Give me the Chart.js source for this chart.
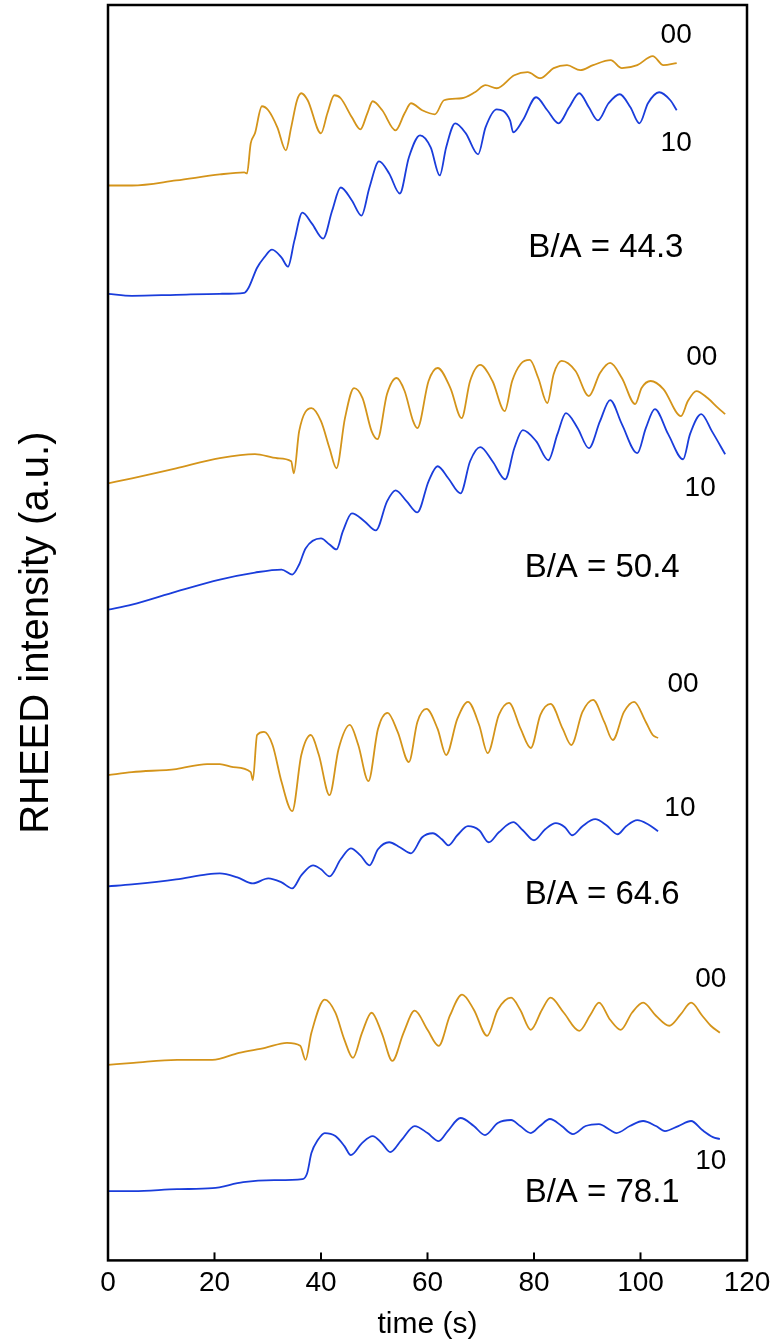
<!DOCTYPE html>
<html>
<head>
<meta charset="utf-8">
<title>RHEED intensity oscillations</title>
<script src="https://cdn.jsdelivr.net/npm/chart.js@4/dist/chart.umd.min.js"></script>
<style>
  html, body { margin: 0; padding: 0; background: #fff; }
  #wrap { width: 778px; height: 1343px; }
</style>
</head>
<body>
<div id="wrap"><canvas id="rheed"></canvas></div>
<script>
// time (s) and intensity (a.u., traces offset vertically)
// B/A = 44.3
const t00_443 = [0,4.5,12.8,21,25.6,26.1,26.8,27.6,28.9,30.1,31.8,33.4,34.4,35.5,36.3,37.5,40,41.2,42.5,43.7,45.8,47.4,48.7,49.7,51.5,54,55.7,56.9,59,61.4,63.1,66.4,68.9,70.9,73,76.3,78.8,81.2,83.7,86.2,88.7,91.1,94.4,96.5,99.4,102.3,104.3,106.8];
const i00_443 = [107.2,107.2,107.7,108.3,108.5,108.4,111.4,112.4,115.1,114.7,113.0,110.7,113.0,115.7,116.4,115.7,112.4,114.4,116.2,115.9,114.0,112.8,114.4,115.6,114.7,112.7,114.4,115.4,114.7,114.3,115.7,115.9,116.5,117.2,116.9,118.2,118.5,117.9,118.9,119.2,118.7,119.2,119.7,118.9,119.2,120.1,119.2,119.4];
const t10_443 = [0,4.5,12.8,21,25.6,26.4,28,29.3,30.8,32.6,33.8,35,36.5,38.3,40.4,42.1,43.7,45.8,47.6,49.1,50.9,52.8,54.8,56.5,58.6,60.6,62.3,63.5,65.2,67.2,69.5,70.9,73,75.5,76.1,77.9,80.4,82.5,84.6,86.6,88.5,90.3,92,94,96.1,98.1,99.8,101.4,103.5,105.6,106.8];
const i10_443 = [96.4,96.2,96.3,96.4,96.5,97.0,99.0,100.0,100.8,100.0,99.1,101.7,104.5,103.4,101.9,104.7,107.0,105.7,104.2,107.0,109.6,108.4,106.4,110.0,112.2,111.0,108.2,111.0,113.4,112.4,110.3,113.0,114.8,113.7,112.5,113.7,116.0,114.7,113.4,115.0,116.4,115.0,113.7,115.4,116.3,115.0,113.4,115.4,116.5,115.7,114.7];

// B/A = 50.4
const t00_504 = [0,4.5,12.8,21,27.6,31.8,34.4,34.9,35.9,38.2,40,41.6,42.9,44.5,46.2,47.8,49.5,50.6,52.4,54.2,55.7,57.3,58.1,60.2,61.9,64.3,66.4,68,69.9,72.2,74.5,75.9,77.5,79.2,80.8,82.5,83.7,85.2,87.8,90.3,92.4,94.3,96.5,99,100.2,101.9,104.3,107.6,108.9,110.5,112.6,114.6,115.9];
const i00_504 = [77.5,78.0,79.0,80.0,80.4,80.0,79.7,78.5,82.7,85.0,83.7,81.0,79.0,84.0,87.0,86.0,82.7,81.9,86.4,88.0,86.7,83.7,83.0,87.7,89.0,87.0,84.0,87.7,89.3,87.7,84.7,87.7,89.4,89.8,88.0,85.5,88.4,89.7,88.7,86.2,88.5,89.5,88.0,85.4,87.0,87.7,86.9,84.2,85.7,86.7,86.0,85.0,84.4];
const t10_504 = [0,4.5,12.8,21,27.6,32.6,34.6,35.9,37.1,40,41.6,42.9,44.1,45.8,48.2,50.3,52.4,54,56.1,58.1,60.2,61.9,63.9,66.2,68,69.9,72.2,74.6,76.3,77.9,80.4,82.7,84.4,86,88.2,90.3,92.4,94.3,96.5,99.4,101,102.7,105.2,108,109.3,111.4,113.4,115.9];
const i10_504 = [64.9,65.4,66.7,67.9,68.6,68.9,68.4,69.4,71.0,72.0,71.4,70.9,72.7,74.5,73.7,72.8,75.7,76.8,75.7,74.6,77.7,79.2,78.0,76.5,79.7,81.1,79.7,77.9,81.0,82.8,81.7,79.8,82.4,84.5,83.0,81.0,83.7,85.8,83.4,80.5,83.0,84.9,82.4,79.9,82.4,84.4,82.7,80.4];

// B/A = 64.6
const t00_646 = [0,4.5,12.8,18.6,21,23.5,26.8,27.2,28,29.3,30.9,32.6,34.6,36.3,38.1,39.6,41.6,43.3,45.4,47,48.9,50.7,52.5,54.4,56.5,58.1,59.8,61.9,63.5,65.6,67.6,69.7,71.3,73.4,75.3,77.5,79.4,81.2,83.1,85.4,87,89.1,91.1,93.2,94.8,96.9,98.8,101,102.3,103.3];
const i00_646 = [48.4,48.7,49.0,49.5,49.5,49.2,48.7,47.9,52.4,52.7,51.4,47.7,44.8,50.4,52.4,50.4,46.4,51.0,53.4,51.4,47.8,53.0,54.6,52.7,49.7,53.7,55.0,53.0,50.4,54.0,55.7,53.4,50.6,54.4,55.6,53.0,51.1,54.4,55.5,53.0,51.4,54.7,55.9,53.7,51.9,54.7,55.7,53.7,52.4,52.1];
const t10_646 = [0,4.5,12.8,18.6,21,24.3,27.2,30.1,32.6,34.6,36.3,38.5,40,41.6,43.7,45.6,47.4,49.1,50.7,52.8,54.8,56.9,59,61,62.7,63.9,65.6,67.6,69.7,71.5,73.4,76.1,77.9,80,82.1,84.1,85.8,87.2,89.1,91.5,93.6,95.7,97.3,99.4,101.4,103.3];
const i10_646 = [37.3,37.5,38.0,38.5,38.6,38.2,37.6,38.1,37.7,37.1,38.4,39.4,39.0,38.3,40.0,41.1,40.4,39.4,41.0,41.7,41.2,40.6,42.2,42.6,42.0,41.4,42.4,43.3,42.9,41.7,42.7,43.7,42.9,41.9,43.0,43.6,43.2,42.4,43.3,44.0,43.4,42.5,43.3,43.9,43.5,42.8];

// B/A = 78.1
const t00_781 = [0,4.8,13,19.6,24.6,29.5,33.6,36.1,37.1,38.2,40.7,42.7,44.4,46,47.7,49.5,51.4,53.4,55.5,57.6,60,62.1,64.2,66.5,68.7,71.2,73.2,75.7,77.4,79.4,81.5,83.1,85.6,88.5,90.6,92.2,94.3,96.3,98.4,100.5,102.9,105.4,107.5,109.5,111.6,113.2,114.9];
const i00_781 = [19.5,19.7,20.0,20.0,20.7,21.2,21.7,21.4,20.0,22.7,26.0,24.7,22.0,20.2,22.7,24.7,22.7,19.9,22.7,24.9,23.0,21.4,24.4,26.5,25.0,22.4,25.0,26.2,25.0,23.0,25.0,26.2,24.7,22.9,24.5,25.7,24.0,23.0,24.7,25.7,24.4,23.4,24.5,25.7,24.4,23.4,22.7];
const t10_781 = [0,4.8,13,19.6,25.4,31.2,36.5,37.4,38.2,39.4,40.7,42.7,44.4,45.6,47.7,49.7,51.4,53,55.1,57.6,60,62.1,63.8,66.2,68.7,70.8,73.2,75.7,77.4,79.4,81.1,83,85.2,87.3,89.7,92.2,94.3,95.5,98,100.5,102.9,104.6,107.1,109.5,111.6,113.6,114.9];
const i10_781 = [6.9,6.9,7.1,7.2,7.8,8.0,8.1,8.7,10.7,12.0,12.7,12.4,11.4,10.5,11.7,12.4,11.7,10.8,12.0,13.4,12.7,11.9,12.9,14.2,13.4,12.5,13.7,14.0,13.4,12.7,13.4,14.1,13.4,12.6,13.4,13.6,13.0,12.7,13.4,13.9,13.4,12.9,13.4,13.9,13.0,12.3,12.1];

const xTicks = [0, 20, 40, 60, 80, 100, 120];

// text labels placed in data units: [text, time, intensity, font size]
const notes = [
  ['00', 106.7, 122.2, 28], ['10', 106.7, 111.4, 28], ['B/A = 44.3', 93.5, 101.0, 33],
  ['00', 111.5, 90.1, 28],  ['10', 111.2, 77.0, 28],  ['B/A = 50.4', 92.8, 69.1, 33],
  ['00', 108.0, 57.5, 28],  ['10', 107.4, 45.1, 28],  ['B/A = 64.6', 92.8, 36.5, 33],
  ['00', 113.2, 28.0, 28],  ['10', 113.2, 9.9, 28],   ['B/A = 78.1', 92.8, 6.7, 33]
];

const ORANGE = '#d4941a';
const BLUE = '#1a3ddb';
const FONT = 'Liberation Sans, Arial, sans-serif';

function series(label, t, v, color) {
  return {
    label: label,
    data: t.map((x, i) => ({ x: x, y: v[i] })),
    borderColor: color,
    borderWidth: 1.8,
    pointRadius: 0,
    cubicInterpolationMode: 'monotone',
    fill: false
  };
}

const frame = {
  id: 'frame',
  afterDraw(chart) {
    const { ctx, chartArea: a, scales } = chart;
    ctx.save();
    ctx.strokeStyle = '#000';
    ctx.lineWidth = 2.5;
    ctx.strokeRect(a.left, a.top, a.right - a.left, a.bottom - a.top);
    // inward tick marks
    ctx.lineWidth = 2;
    xTicks.forEach(v => {
      const px = scales.x.getPixelForValue(v);
      ctx.beginPath();
      ctx.moveTo(px, a.bottom);
      ctx.lineTo(px, a.bottom - 8);
      ctx.stroke();
    });
    // curve labels
    ctx.fillStyle = '#000';
    ctx.textAlign = 'center';
    ctx.textBaseline = 'middle';
    notes.forEach(([txt, t, v, size]) => {
      ctx.font = size + 'px ' + FONT;
      ctx.fillText(txt, scales.x.getPixelForValue(t), scales.y.getPixelForValue(v));
    });
    ctx.restore();
  }
};

new Chart(document.getElementById('rheed'), {
  type: 'line',
  data: {
    datasets: [
      series('00, B/A = 44.3', t00_443, i00_443, ORANGE),
      series('10, B/A = 44.3', t10_443, i10_443, BLUE),
      series('00, B/A = 50.4', t00_504, i00_504, ORANGE),
      series('10, B/A = 50.4', t10_504, i10_504, BLUE),
      series('00, B/A = 64.6', t00_646, i00_646, ORANGE),
      series('10, B/A = 64.6', t10_646, i10_646, BLUE),
      series('00, B/A = 78.1', t00_781, i00_781, ORANGE),
      series('10, B/A = 78.1', t10_781, i10_781, BLUE)
    ]
  },
  options: {
    responsive: true,
    maintainAspectRatio: false,
    animation: false,
    layout: { padding: { left: 0, right: 31, top: 5, bottom: 0 } },
    plugins: {
      legend: { display: false },
      tooltip: { enabled: false }
    },
    scales: {
      x: {
        type: 'linear',
        min: 0,
        max: 120,
        afterBuildTicks: (axis) => { axis.ticks = xTicks.map(v => ({ value: v })); },
        ticks: {
          color: '#000',
          padding: 6,
          font: { family: FONT, size: 28 }
        },
        grid: { display: false, drawTicks: false },
        border: { display: false },
        title: {
          display: true,
          text: 'time (s)',
          color: '#000',
          padding: { top: 1, bottom: 0 },
          font: { family: FONT, size: 30 }
        }
      },
      y: {
        min: 0,
        max: 125.2,
        ticks: { display: false },
        grid: { display: false, drawTicks: false },
        border: { display: false },
        title: {
          display: true,
          text: 'RHEED intensity (a.u.)',
          color: '#000',
          padding: { top: 13, bottom: 47 },
          font: { family: FONT, size: 40 }
        }
      }
    }
  },
  plugins: [frame]
});
</script>
</body>
</html>
